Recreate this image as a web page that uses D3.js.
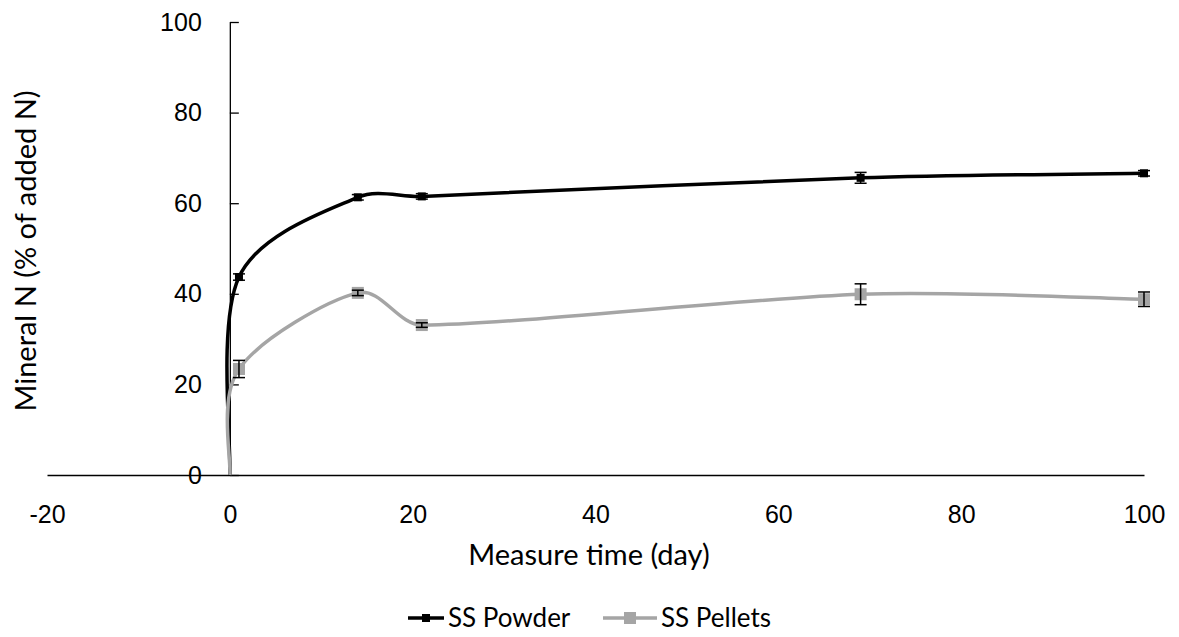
<!DOCTYPE html>
<html>
<head>
<meta charset="utf-8">
<script src="https://cdn.jsdelivr.net/npm/d3@7"></script>
<style>
  body { margin: 0; background: #fff; }
  svg { font-family: Lato, 'Open Sans', sans-serif; }
  .axis text { font-size: 25px; fill: #000; }
  .axis path, .axis line { stroke: #000; stroke-width: 1.3; }
  .axis-label { font-size: 29px; fill: #000; }
  .legend text { font-size: 26px; fill: #000; }
</style>
</head>
<body>
<svg id="chart" width="1179" height="637"></svg>
<script>
// Data
const days = [0, 1, 14, 21, 69, 100];
const powder = [0, 43.7, 61.3, 61.5, 65.6, 66.6];
const powderErr = [0, 0.7, 0.6, 0.6, 1.2, 0.6];
const pellets = [0, 23.4, 40.2, 33.1, 39.9, 38.8];
const pelletsErr = [0, 1.9, 0.6, 0.5, 2.3, 1.6];
const xTicks = [-20, 0, 20, 40, 60, 80, 100];
const yTicks = [0, 20, 40, 60, 80, 100];

const series = [
  { name: 'SS Powder', values: powder, errors: powderErr, color: '#000000', marker: 8 },
  { name: 'SS Pellets', values: pellets, errors: pelletsErr, color: '#a5a5a5', marker: 12 },
];

const svg = d3.select('#chart');

const xScale = d3.scaleLinear().domain([-20, 100]).range([47, 1144]);
const yScale = d3.scaleLinear().domain([0, 100]).range([475, 22]);

/**
 * Spreadsheet-style smoothed line: Catmull-Rom tangents (1/6),
 * with each control arm capped to a third of the segment length
 */
function curveSmoothCapped(context) {
  let pts = [];
  return {
    areaStart() {},
    areaEnd() {},
    lineStart() { pts = []; },
    point(x, y) { pts.push([+x, +y]); },
    lineEnd() {
      const n = pts.length;
      if (!n) return;
      context.moveTo(pts[0][0], pts[0][1]);
      const arm = (i, seg) => {
        const a = pts[Math.max(i - 1, 0)];
        const b = pts[Math.min(i + 1, n - 1)];
        let dx = (b[0] - a[0]) / 6;
        let dy = (b[1] - a[1]) / 6;
        const len = Math.hypot(dx, dy);
        const lim = seg / 3;
        if (len > lim && len > 0) {
          dx *= lim / len;
          dy *= lim / len;
        }
        return [dx, dy];
      };
      for (let i = 0; i < n - 1; i++) {
        const p1 = pts[i];
        const p2 = pts[i + 1];
        const seg = Math.hypot(p2[0] - p1[0], p2[1] - p1[1]);
        const a1 = arm(i, seg);
        const a2 = arm(i + 1, seg);
        context.bezierCurveTo(
          p1[0] + a1[0], p1[1] + a1[1],
          p2[0] - a2[0], p2[1] - a2[1],
          p2[0], p2[1],
        );
      }
    },
  };
}

/**
 * Adds the axes
 */
function addAxes() {
  svg.append('g')
    .attr('class', 'axis')
    .attr('transform', 'translate(0,' + yScale(0) + ')')
    .call(d3.axisBottom(xScale).tickValues(xTicks).tickFormat((d) => String(d))
      .tickSize(0).tickSizeOuter(0).tickPadding(30));

  svg.append('g')
    .attr('class', 'axis')
    .attr('transform', 'translate(' + xScale(0) + ',0)')
    .call(d3.axisLeft(yScale).tickValues(yTicks).tickFormat((d) => String(d))
      .tickSizeInner(-9).tickSizeOuter(0).tickPadding(28));
}

function addLabels() {
  svg.append('text')
    .attr('class', 'axis-label')
    .attr('text-anchor', 'middle')
    .attr('x', 589)
    .attr('y', 565)
    .text('Measure time (day)');

  svg.append('text')
    .attr('class', 'axis-label')
    .attr('text-anchor', 'middle')
    .attr('transform', 'translate(36,251) rotate(-90)')
    .text('Mineral N (% of added N)');
}

function drawSeries() {
  const line = d3.line()
    .x((d, i) => xScale(days[i]))
    .y((d) => yScale(d))
    .curve(curveSmoothCapped);

  series.forEach((s) => {
    const g = svg.append('g').attr('class', 'series');

    g.append('path')
      .datum(s.values)
      .attr('fill', 'none')
      .attr('stroke', s.color)
      .attr('stroke-width', 3.5)
      .attr('d', line);

    const pts = s.values.map((v, i) => ({ x: days[i], y: v, e: s.errors[i] })).filter((d) => d.x > 0);

    g.selectAll('rect')
      .data(pts)
      .enter()
      .append('rect')
      .attr('x', (d) => xScale(d.x) - s.marker / 2)
      .attr('y', (d) => yScale(d.y) - s.marker / 2)
      .attr('width', s.marker)
      .attr('height', s.marker)
      .attr('fill', s.color);

    const eb = g.selectAll('.err')
      .data(pts)
      .enter()
      .append('g')
      .attr('class', 'err')
      .attr('stroke', '#000')
      .attr('stroke-width', 1.5);
    eb.append('line')
      .attr('x1', (d) => xScale(d.x)).attr('x2', (d) => xScale(d.x))
      .attr('y1', (d) => yScale(d.y - d.e)).attr('y2', (d) => yScale(d.y + d.e));
    eb.append('line')
      .attr('x1', (d) => xScale(d.x) - 6).attr('x2', (d) => xScale(d.x) + 6)
      .attr('y1', (d) => yScale(d.y - d.e)).attr('y2', (d) => yScale(d.y - d.e));
    eb.append('line')
      .attr('x1', (d) => xScale(d.x) - 6).attr('x2', (d) => xScale(d.x) + 6)
      .attr('y1', (d) => yScale(d.y + d.e)).attr('y2', (d) => yScale(d.y + d.e));
  });
}

function addLegend() {
  const items = [
    { s: series[0], x: 408, len: 36 },
    { s: series[1], x: 603, len: 54 },
  ];
  const lg = svg.append('g').attr('class', 'legend');
  items.forEach((it) => {
    const g = lg.append('g').attr('transform', 'translate(' + it.x + ',618)');
    g.append('line').attr('x1', 0).attr('x2', it.len).attr('y1', 0).attr('y2', 0)
      .attr('stroke', it.s.color).attr('stroke-width', 3.5);
    g.append('rect').attr('x', it.len / 2 - it.s.marker / 2).attr('y', -it.s.marker / 2)
      .attr('width', it.s.marker).attr('height', it.s.marker).attr('fill', it.s.color);
    g.append('text').attr('x', it.len + 4).attr('y', 9).text(it.s.name);
  });
}

addAxes();
addLabels();
drawSeries();
addLegend();
</script>
</body>
</html>
